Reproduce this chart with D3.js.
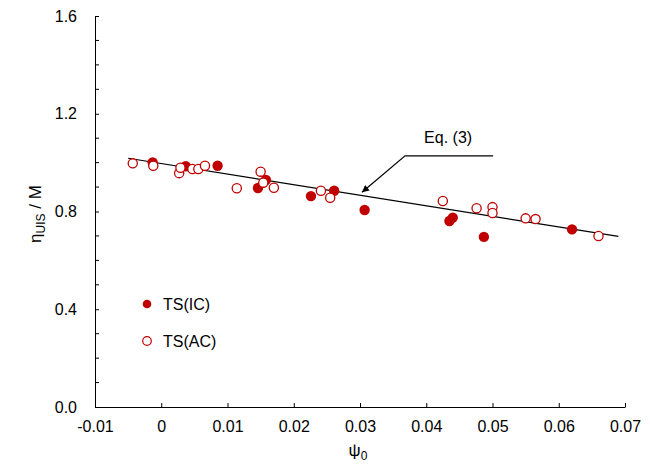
<!DOCTYPE html>
<html>
<head>
<meta charset="utf-8">
<script src="https://cdn.jsdelivr.net/npm/d3@7"></script>
<style>
  body { margin: 0; background: #fff; }
  text { font-family: "Liberation Sans", Arial, sans-serif; }
</style>
</head>
<body>
<div class="canvas"></div>
<script>
// data
const icX = [-0.0013, 0.0037, 0.0085, 0.0146, 0.0158, 0.0226, 0.0261, 0.0307, 0.0435, 0.0440, 0.0487, 0.0620];
const icY = [1.001, 0.985, 0.987, 0.896, 0.929, 0.863, 0.885, 0.806, 0.761, 0.775, 0.696, 0.727];

const acX = [-0.0043, -0.0012, 0.0027, 0.0029, 0.0047, 0.0056, 0.0066, 0.0114, 0.0150, 0.0154,
             0.0170, 0.0241, 0.0255, 0.0425, 0.0476, 0.0500, 0.0500, 0.0550, 0.0565, 0.0660];
const acY = [0.997, 0.987, 0.957, 0.979, 0.974, 0.974, 0.987, 0.895, 0.963, 0.918,
             0.897, 0.885, 0.856, 0.843, 0.813, 0.818, 0.794, 0.772, 0.769, 0.700];

// Eq. (3) fit line end points
const fitX = [-0.005, 0.069];
const fitY = [1.018, 0.698];

const xTicks = [-0.01, 0, 0.01, 0.02, 0.03, 0.04, 0.05, 0.06, 0.07];
const yTicks = [0.0, 0.4, 0.8, 1.2, 1.6];
const yMinor = [0.1, 0.2, 0.3, 0.5, 0.6, 0.7, 0.9, 1.0, 1.1, 1.3, 1.4, 1.5];

// annotation leader (data units): tip, elbow, end; label spot
const eqLeaderX = [0.0303, 0.0368, 0.0501];
const eqLeaderY = [0.8785, 1.028, 1.028];
const eqLabel = { text: 'Eq. (3)', x: 0.0433, y: 1.080 };

const red = '#c00000';
const dims = { width: 650, height: 465 };

const svg = d3.select('.canvas')
  .append('svg')
  .attr('width', dims.width)
  .attr('height', dims.height);

const x = d3.scaleLinear().domain([-0.01, 0.07]).range([95, 625]);
const y = d3.scaleLinear().domain([0, 1.6]).range([407, 16]);

// plain hyphen for negatives, like the original
const fmtX = d => d === 0 ? '0' : d3.format('.2f')(d).replace('\u2212', '-');

// axes - ticks point inward
const xAxis = d3.axisBottom(x)
  .tickValues(xTicks)
  .tickSizeInner(-4)
  .tickSizeOuter(0)
  .tickPadding(14)
  .tickFormat(fmtX);

const yAxis = d3.axisLeft(y)
  .tickValues(yTicks)
  .tickSizeInner(-4)
  .tickSizeOuter(0)
  .tickPadding(18)
  .tickFormat(d3.format('.1f'));

const gx = svg.append('g')
  .attr('transform', `translate(0, ${y(0)})`)
  .call(xAxis);

const gy = svg.append('g')
  .attr('transform', `translate(${x(-0.01)}, 0)`)
  .call(yAxis);

// minor y ticks
gy.selectAll('line.minor')
  .data(yMinor)
  .enter()
  .append('line')
    .attr('class', 'minor')
    .attr('x1', 0).attr('x2', 4)
    .attr('y1', d => y(d)).attr('y2', d => y(d))
    .attr('stroke', '#000');

[gx, gy].forEach(g => {
  g.select('.domain').attr('stroke', '#000').attr('stroke-width', 1);
  g.selectAll('.tick line').attr('stroke', '#000');
  g.selectAll('.tick text')
    .attr('font-size', 16)
    .attr('fill', '#000')
    .attr('font-family', '"Liberation Sans", Arial, sans-serif');
});

// axis titles
const yTitle = svg.append('text')
  .attr('transform', `translate(41, 214) rotate(-90)`)
  .attr('text-anchor', 'middle')
  .attr('font-size', 17)
  .attr('fill', '#000');
yTitle.append('tspan').text('η');
yTitle.append('tspan').text('UIS').attr('font-size', 12).attr('dy', 4);
yTitle.append('tspan').text(' / M').attr('dy', -4);

const xTitle = svg.append('text')
  .attr('x', 358)
  .attr('y', 456)
  .attr('text-anchor', 'middle')
  .attr('font-size', 17)
  .attr('fill', '#000');
xTitle.append('tspan').text('ψ');
xTitle.append('tspan').text('0').attr('font-size', 12).attr('dy', 4);

// fit line
const line = d3.line().x(d => x(d[0])).y(d => y(d[1]));
svg.append('path')
  .attr('d', line(d3.zip(fitX, fitY)))
  .attr('fill', 'none')
  .attr('stroke', '#000')
  .attr('stroke-width', 1.2);

// data points: filled first, open on top
svg.append('g').selectAll('circle')
  .data(d3.zip(icX, icY))
  .enter()
  .append('circle')
    .attr('cx', d => x(d[0]))
    .attr('cy', d => y(d[1]))
    .attr('r', 5.2)
    .attr('fill', red);

svg.append('g').selectAll('circle')
  .data(d3.zip(acX, acY))
  .enter()
  .append('circle')
    .attr('cx', d => x(d[0]))
    .attr('cy', d => y(d[1]))
    .attr('r', 4.6)
    .attr('fill', '#fff')
    .attr('stroke', red)
    .attr('stroke-width', 1.3);

// annotation leader with arrow
svg.append('defs').append('marker')
  .attr('id', 'arrow')
  .attr('viewBox', '0 0 10 10')
  .attr('refX', 10).attr('refY', 5)
  .attr('markerWidth', 11).attr('markerHeight', 7)
  .attr('markerUnits', 'userSpaceOnUse')
  .attr('orient', 'auto-start-reverse')
  .append('path')
    .attr('d', 'M0,0 L10,5 L0,10 Z')
    .attr('fill', '#000');

svg.append('path')
  .attr('d', line(d3.zip(eqLeaderX, eqLeaderY)))
  .attr('fill', 'none')
  .attr('stroke', '#000')
  .attr('stroke-width', 1.2)
  .attr('marker-start', 'url(#arrow)');

svg.append('text')
  .attr('x', x(eqLabel.x))
  .attr('y', y(eqLabel.y))
  .attr('text-anchor', 'middle')
  .attr('font-size', 16)
  .attr('fill', '#000')
  .text(eqLabel.text);

// legend
const legendItems = ['TS(IC)', 'TS(AC)'];
const legend = svg.append('g').attr('transform', 'translate(147, 304)');
legendItems.forEach((name, i) => {
  const g = legend.append('g').attr('transform', `translate(0, ${i * 37})`);
  g.append('circle')
    .attr('r', 4.3)
    .attr('fill', i === 0 ? red : '#fff')
    .attr('stroke', red)
    .attr('stroke-width', i === 0 ? 0 : 1.2);
  g.append('text')
    .attr('x', 16)
    .attr('y', 6)
    .attr('font-size', 16)
    .attr('fill', '#000')
    .text(name);
});
</script>
</body>
</html>
